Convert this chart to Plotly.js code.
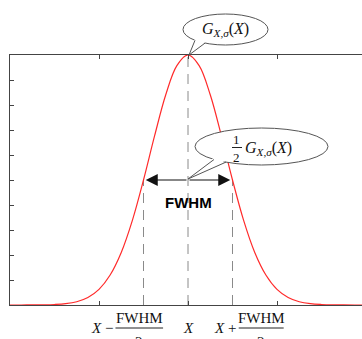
<!DOCTYPE html>
<html>
<head>
<meta charset="utf-8">
<script src="https://cdn.plot.ly/plotly-3.0.1.min.js"></script>
<style>
html, body { margin: 0; padding: 0; overflow: hidden; background: #fff; }
#chart { width: 370px; height: 339px; }
</style>
</head>
<body>
<div id="chart"></div>
<script>
// Curve values (normalised Gaussian, FWHM = 2 units)
const curveX = [-4, -3.75, -3.5, -3.25, -3, -2.75, -2.5, -2.25, -2, -1.75, -1.5, -1.25, -1, -0.75, -0.5, -0.25,
                0, 0.25, 0.5, 0.75, 1, 1.25, 1.5, 1.75, 2, 2.25, 2.5, 2.75, 3, 3.25, 3.5, 3.75, 4];
const curveY = [0.00002, 0.00006, 0.0002, 0.00066, 0.0020, 0.0053, 0.0131, 0.0300, 0.0625, 0.1199, 0.2102, 0.3385, 0.5, 0.6771, 0.8409, 0.9576,
                1, 0.9576, 0.8409, 0.6771, 0.5, 0.3385, 0.2102, 0.1199, 0.0625, 0.0300, 0.0131, 0.0053, 0.0020, 0.00066, 0.0002, 0.00006, 0.00002];

// Dashed guide lines: positions and heights
const guideX = [-1, 0, 1];
const guideTop = [0.5, 1, 0.5];

// Arrow (FWHM) ends
const arrowLeft = -0.95;
const arrowRight = 0.95;
const halfMax = 0.5;

// Tick label texts
const tickLeftPrefix = "<i>X</i> −";
const tickRightPrefix = "<i>X</i> +";
const tickCenter = "<i>X</i>";
const fracTop = "FWHM";
const fracBottom = "2";

const axisColor = '#444';
const bubbleColor = '#555';
const serif = 'Liberation Serif, Times New Roman, serif';

const shapes = [];
guideX.forEach((gx, i) => {
  shapes.push({type: 'line', xref: 'x', yref: 'y', x0: gx, x1: gx, y0: 0, y1: guideTop[i],
               line: {color: '#8a8a8a', width: 1, dash: '10px,7px'}, layer: 'below'});
});

// paper coordinate helpers (plot area 356 x 250 px)
const px = v => (v - 10) / 356;
const py = v => (305 - v) / 250;

// Top bubble
shapes.push({type: 'circle', xref: 'paper', yref: 'paper', x0: px(183), x1: px(268), y0: py(45), y1: py(14),
             fillcolor: '#fff', line: {color: bubbleColor, width: 1}});
shapes.push({type: 'path', xref: 'paper', yref: 'paper',
             path: `M${px(195)},${py(38.5)} L${px(206)},${py(41.5)} L${px(189)},${py(55)} Z`,
             fillcolor: '#fff', line: {width: 0}});
shapes.push({type: 'line', xref: 'paper', yref: 'paper', x0: px(195), y0: py(40.3), x1: px(189), y1: py(55),
             line: {color: bubbleColor, width: 1}});
shapes.push({type: 'line', xref: 'paper', yref: 'paper', x0: px(205), y0: py(43.1), x1: px(189), y1: py(55),
             line: {color: bubbleColor, width: 1}});

// Second bubble
shapes.push({type: 'circle', xref: 'paper', yref: 'paper', x0: px(195), x1: px(328), y0: py(165), y1: py(128),
             fillcolor: '#fff', line: {color: bubbleColor, width: 1}});
shapes.push({type: 'path', xref: 'paper', yref: 'paper',
             path: `M${px(214)},${py(157.5)} L${px(227)},${py(160)} L${px(188)},${py(179)} Z`,
             fillcolor: '#fff', line: {width: 0}});
shapes.push({type: 'line', xref: 'paper', yref: 'paper', x0: px(214), y0: py(159.5), x1: px(188), y1: py(179),
             line: {color: bubbleColor, width: 1}});
shapes.push({type: 'line', xref: 'paper', yref: 'paper', x0: px(226), y0: py(162.1), x1: px(188), y1: py(179),
             line: {color: bubbleColor, width: 1}});
// 1/2 fraction bar
shapes.push({type: 'line', xref: 'paper', yref: 'paper', x0: px(232), x1: px(242), y0: py(147.5), y1: py(147.5),
             line: {color: '#222', width: 1}});

// Tick label fraction bars
shapes.push({type: 'line', xref: 'x', yref: 'paper', x0: -1.63, x1: -0.56, y0: -0.092, y1: -0.092,
             line: {color: '#222', width: 1}});
shapes.push({type: 'line', xref: 'x', yref: 'paper', x0: 1.14, x1: 2.15, y0: -0.092, y1: -0.092,
             line: {color: '#222', width: 1}});

const gText = "<i>G</i><sub><i>X</i>,<i>σ</i></sub>(<i>X</i>)";

const mid = {xanchor: 'center', yanchor: 'middle', showarrow: false};

const annotations = [
  // FWHM arrows
  {x: arrowLeft, y: halfMax, ax: 0, ay: halfMax, xref: 'x', yref: 'y', axref: 'x', ayref: 'y',
   text: '', showarrow: true, arrowhead: 2, arrowsize: 2, arrowwidth: 1.2, arrowcolor: '#111', standoff: 0, startstandoff: 0},
  {x: arrowRight, y: halfMax, ax: 0, ay: halfMax, xref: 'x', yref: 'y', axref: 'x', ayref: 'y',
   text: '', showarrow: true, arrowhead: 2, arrowsize: 2, arrowwidth: 1.2, arrowcolor: '#111', standoff: 0, startstandoff: 0},
  Object.assign({x: 0, y: 0.41, xref: 'x', yref: 'y', text: '<b>FWHM</b>',
   font: {family: 'Liberation Sans, Arial, sans-serif', size: 15, color: '#000'}}, mid),
  // Bubble texts
  Object.assign({x: px(225.5), y: py(30), xref: 'paper', yref: 'paper', text: gText,
   font: {family: serif, size: 16, color: '#111'}}, mid),
  Object.assign({x: px(237), y: py(139), xref: 'paper', yref: 'paper', text: '1',
   font: {family: serif, size: 13, color: '#111'}}, mid),
  Object.assign({x: px(237), y: py(157), xref: 'paper', yref: 'paper', text: '2',
   font: {family: serif, size: 13, color: '#111'}}, mid),
  Object.assign({x: px(243), y: py(148), xref: 'paper', yref: 'paper', text: gText,
   font: {family: serif, size: 16, color: '#111'}}, mid, {xanchor: 'left'}),
  // X tick labels
  Object.assign({x: -1.65, y: -0.092, xref: 'x', yref: 'paper', text: tickLeftPrefix,
   font: {family: serif, size: 15, color: '#111'}}, mid, {xanchor: 'right'}),
  Object.assign({x: -1.095, y: -0.052, xref: 'x', yref: 'paper', text: fracTop,
   font: {family: serif, size: 15, color: '#111'}}, mid),
  Object.assign({x: -1.095, y: -0.146, xref: 'x', yref: 'paper', text: fracBottom,
   font: {family: serif, size: 15, color: '#111'}}, mid),
  Object.assign({x: 0, y: -0.092, xref: 'x', yref: 'paper', text: tickCenter,
   font: {family: serif, size: 15, color: '#111'}}, mid),
  Object.assign({x: 1.12, y: -0.092, xref: 'x', yref: 'paper', text: tickRightPrefix,
   font: {family: serif, size: 15, color: '#111'}}, mid, {xanchor: 'right'}),
  Object.assign({x: 1.645, y: -0.052, xref: 'x', yref: 'paper', text: fracTop,
   font: {family: serif, size: 15, color: '#111'}}, mid),
  Object.assign({x: 1.645, y: -0.146, xref: 'x', yref: 'paper', text: fracBottom,
   font: {family: serif, size: 15, color: '#111'}}, mid)
];

const trace = {
  x: curveX, y: curveY, type: 'scatter', mode: 'lines',
  line: {color: '#ff2a2a', width: 1.2, shape: 'spline', smoothing: 1},
  hoverinfo: 'skip', cliponaxis: false
};

const axisCommon = {
  showgrid: false, zeroline: false, showticklabels: false,
  showline: true, linecolor: axisColor, linewidth: 1.3, mirror: 'ticks',
  ticks: 'inside', ticklen: 4, tickcolor: axisColor, tickwidth: 1
};

const layout = {
  width: 370, height: 339,
  margin: {l: 10, r: 4, t: 55, b: 34},
  paper_bgcolor: '#fff', plot_bgcolor: '#fff',
  showlegend: false,
  xaxis: Object.assign({}, axisCommon, {range: [-4, 4], tick0: 0, dtick: 2}),
  yaxis: Object.assign({}, axisCommon, {range: [0, 1], tick0: 0, dtick: 0.1}),
  shapes: shapes,
  annotations: annotations
};

Plotly.newPlot('chart', [trace], layout, {displayModeBar: false, staticPlot: true});
</script>
</body>
</html>
